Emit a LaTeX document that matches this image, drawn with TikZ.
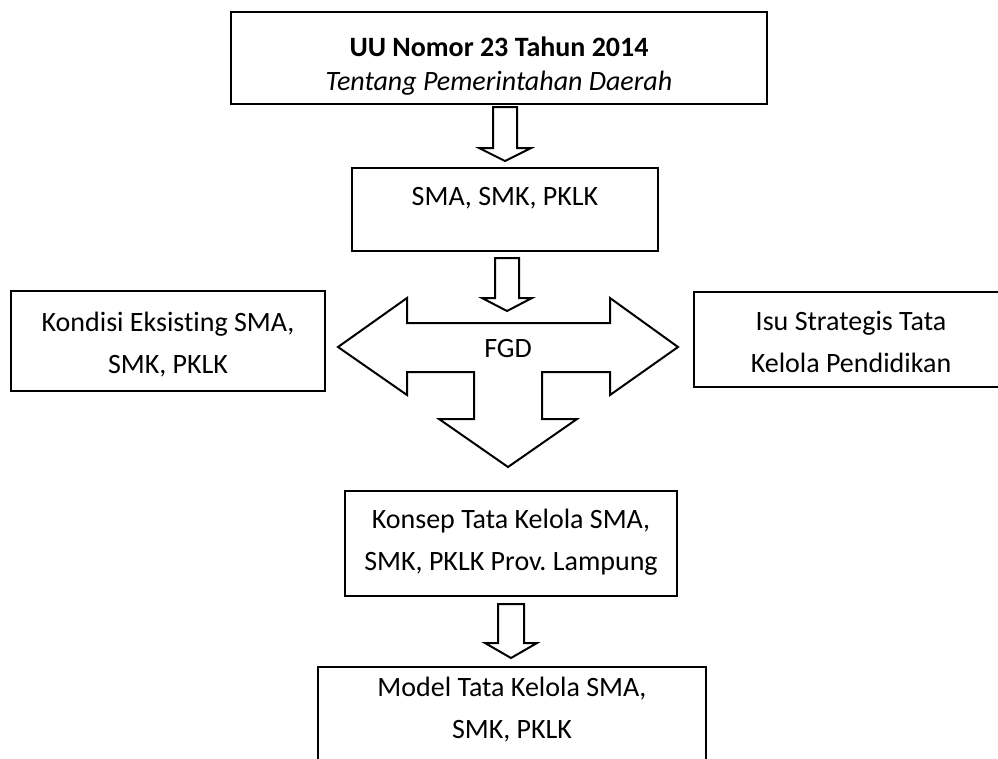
\documentclass[tikz,border=0pt]{standalone}
\usepackage{fontspec}
\setmainfont{Carlito}[Ligatures=NoCommon]
\frenchspacing
\begin{document}
\begin{tikzpicture}[x=0.75pt,y=-0.75pt,
  box/.style={draw=black,line width=1.5pt},
  blockarrow/.style={draw=black,fill=white,line width=1.5pt,line join=miter},
  txt/.style={align=center,inner sep=0pt,font=\fontsize{21}{31.5}\selectfont},
  txttop/.style={align=center,inner sep=0pt,font=\fontsize{21}{26}\selectfont}]
\useasboundingbox (0,0) rectangle (998,758);
\clip (0,0) rectangle (998,758);
% boxes
\draw[box] (231,12) rectangle (767,104);
\node[txttop] (uu) at (499,66) {\textbf{UU Nomor 23 Tahun 2014}\\\textit{Tentang Pemerintahan Daerah}};
\draw[box] (352,168) rectangle (658,251);
\node[txt] (sma) at (505,198) {SMA, SMK, PKLK};
\draw[box] (11,291) rectangle (325,391);
\node[txt] (kondisi) at (168,345) {Kondisi Eksisting SMA,\\SMK, PKLK};
\draw[box] (694,292) rectangle (1008,387);
\node[txt] (isu) at (851,342) {Isu Strategis Tata\\Kelola Pendidikan};
\draw[box] (345,491) rectangle (677,596);
\node[txt] (konsep) at (511,542) {Konsep Tata Kelola SMA,\\SMK, PKLK Prov. Lampung};
\draw[box] (318,667) rectangle (706,800);
\node[txt] (model) at (512,710) {Model Tata Kelola SMA,\\SMK, PKLK};
% block arrows
\draw[blockarrow] (493,107) -- (517,107) -- (517,148) -- (531,148) -- (505,161) -- (479,148) -- (493,148) -- cycle;
\draw[blockarrow] (495,258) -- (519,258) -- (519,298) -- (532,298) -- (507,311) -- (482,298) -- (495,298) -- cycle;
\draw[blockarrow] (498,604) -- (524,604) -- (524,643) -- (537,643) -- (511,658) -- (485,643) -- (498,643) -- cycle;
\draw[blockarrow] (338,347) -- (407,298) -- (407,323) -- (610,323) -- (610,298) -- (678,347)
  -- (610,395) -- (610,372) -- (542,372) -- (542,419) -- (577,419) -- (508,467)
  -- (439,419) -- (474,419) -- (474,372) -- (407,372) -- (407,395) -- cycle;
\node[txt] (fgd) at (508,348) {FGD};
\end{tikzpicture}
\end{document}
